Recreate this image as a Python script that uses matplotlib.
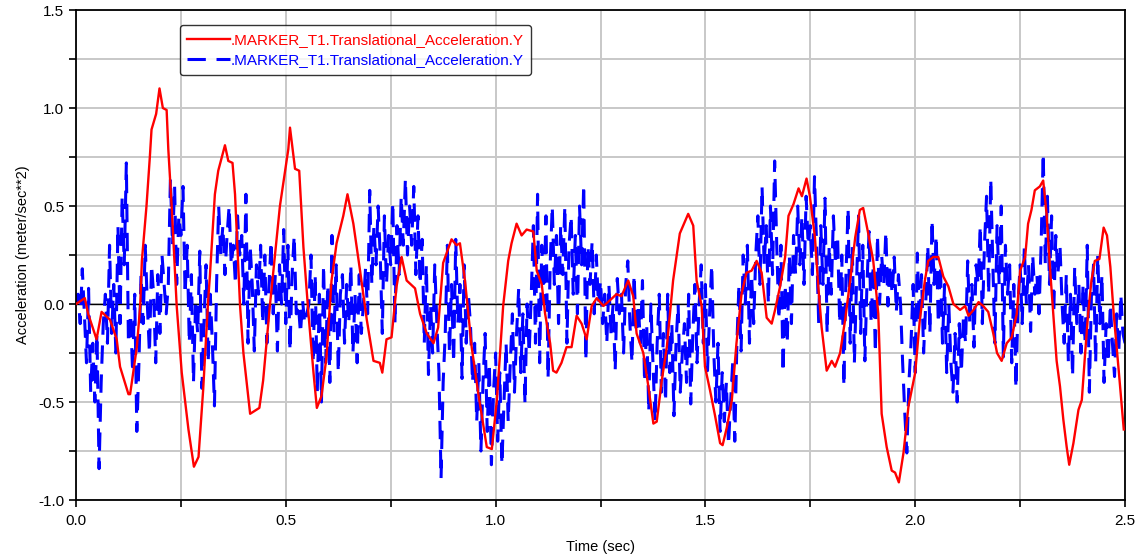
import numpy as np
import matplotlib
matplotlib.use("Agg")
import matplotlib.pyplot as plt
from matplotlib.ticker import MultipleLocator, FormatStrFormatter

plt.rcParams["font.family"] = ["Liberation Sans", "DejaVu Sans"]

# red trace (smooth)
red_t = [0.000, 0.021, 0.029, 0.049, 0.061, 0.081, 0.097, 0.105, 0.125, 0.129,
         0.145, 0.153, 0.157, 0.168, 0.176, 0.180, 0.191, 0.199, 0.207, 0.216,
         0.220, 0.228, 0.240, 0.252, 0.268, 0.281, 0.292, 0.303, 0.315, 0.319,
         0.331, 0.339, 0.355, 0.363, 0.373, 0.379, 0.391, 0.399, 0.415, 0.437,
         0.446, 0.462, 0.486, 0.506, 0.510, 0.522, 0.532, 0.542, 0.554, 0.566,
         0.574, 0.585, 0.597, 0.609, 0.621, 0.637, 0.647, 0.661, 0.677, 0.693,
         0.709, 0.724, 0.730, 0.740, 0.752, 0.764, 0.776, 0.788, 0.808, 0.820,
         0.836, 0.852, 0.863, 0.875, 0.895, 0.907, 0.915, 0.927, 0.943, 0.959,
         0.979, 0.991, 1.003, 1.010, 1.018, 1.030, 1.038, 1.050, 1.062, 1.074,
         1.090, 1.098, 1.110, 1.118, 1.130, 1.137, 1.145, 1.157, 1.169, 1.181,
         1.193, 1.205, 1.217, 1.229, 1.241, 1.257, 1.273, 1.288, 1.300, 1.316,
         1.328, 1.336, 1.352, 1.364, 1.376, 1.384, 1.396, 1.408, 1.423, 1.439,
         1.459, 1.471, 1.479, 1.491, 1.499, 1.511, 1.523, 1.535, 1.541, 1.551,
         1.563, 1.574, 1.586, 1.598, 1.610, 1.622, 1.634, 1.646, 1.658, 1.666,
         1.678, 1.690, 1.698, 1.710, 1.722, 1.730, 1.741, 1.749, 1.761, 1.769,
         1.777, 1.789, 1.801, 1.809, 1.821, 1.833, 1.845, 1.857, 1.868, 1.876,
         1.888, 1.900, 1.912, 1.920, 1.932, 1.944, 1.952, 1.961, 1.972, 1.984,
         2.000, 2.011, 2.023, 2.031, 2.043, 2.055, 2.067, 2.079, 2.091, 2.107,
         2.119, 2.127, 2.139, 2.151, 2.162, 2.174, 2.186, 2.195, 2.206, 2.218,
         2.230, 2.242, 2.250, 2.262, 2.269, 2.277, 2.285, 2.297, 2.305, 2.313,
         2.321, 2.329, 2.337, 2.345, 2.353, 2.361, 2.367, 2.377, 2.389, 2.397,
         2.405, 2.412, 2.420, 2.428, 2.439, 2.449, 2.457, 2.465, 2.473, 2.485,
         2.497]
red_v = [0.00, 0.03, -0.05, -0.18, -0.04, -0.08, -0.18, -0.32, -0.46, -0.46,
         -0.22, -0.01, 0.22, 0.50, 0.75, 0.89, 0.97, 1.10, 1.00, 0.99,
         0.79, 0.50, -0.01, -0.35, -0.64, -0.83, -0.78, -0.44, 0.02, 0.14,
         0.56, 0.68, 0.81, 0.73, 0.72, 0.56, -0.01, -0.25, -0.56, -0.53,
         -0.39, -0.01, 0.50, 0.79, 0.90, 0.69, 0.68, 0.29, -0.05, -0.35,
         -0.53, -0.47, -0.27, 0.12, 0.31, 0.45, 0.56, 0.41, 0.17, -0.08,
         -0.29, -0.30, -0.35, -0.18, -0.17, 0.09, 0.24, 0.12, 0.08, -0.05,
         -0.15, -0.20, -0.12, 0.21, 0.33, 0.30, 0.31, 0.12, -0.22, -0.46,
         -0.73, -0.74, -0.49, -0.27, -0.01, 0.22, 0.31, 0.41, 0.35, 0.38,
         0.37, 0.17, 0.10, -0.05, -0.20, -0.34, -0.35, -0.30, -0.22, -0.22,
         -0.06, -0.10, -0.18, -0.01, 0.03, -0.01, 0.02, 0.05, 0.04, 0.12,
         0.04, -0.15, -0.25, -0.42, -0.61, -0.60, -0.39, -0.22, 0.12, 0.36,
         0.46, 0.40, 0.12, -0.01, -0.32, -0.44, -0.57, -0.71, -0.72, -0.63,
         -0.49, -0.20, 0.05, 0.16, 0.17, 0.22, 0.16, -0.07, -0.10, -0.03,
         0.09, 0.24, 0.45, 0.51, 0.59, 0.55, 0.64, 0.55, 0.34, 0.09,
         -0.12, -0.34, -0.29, -0.32, -0.25, -0.08, 0.12, 0.34, 0.48, 0.49,
         0.36, 0.22, -0.05, -0.56, -0.73, -0.85, -0.86, -0.91, -0.76, -0.52,
         -0.35, -0.08, 0.12, 0.22, 0.24, 0.24, 0.14, 0.09, 0.00, -0.03,
         -0.01, -0.06, -0.03, 0.01, -0.01, -0.04, -0.15, -0.25, -0.29, -0.20,
         -0.17, -0.05, 0.17, 0.24, 0.41, 0.48, 0.58, 0.60, 0.63, 0.46,
         0.19, -0.05, -0.29, -0.42, -0.59, -0.73, -0.82, -0.71, -0.54, -0.49,
         -0.25, -0.05, 0.12, 0.22, 0.23, 0.39, 0.35, 0.19, -0.05, -0.34,
         -0.64]

# blue trace (noisy), one value every 0.005 s
blue_v = [
    0.0, 0.05, -0.1, 0.18, -0.05, -0.3, 0.08, -0.45, -0.2, -0.5,
    -0.15, -0.84, -0.4, -0.1, 0.05, -0.2, 0.3, -0.15, 0.1, -0.25,
    0.4, -0.1, 0.55, 0.2, 0.72, -0.2, -0.05, -0.35, 0.05, -0.65,
    -0.3, 0.15, -0.1, 0.3, 0.0, -0.25, 0.2, 0.05, -0.3, 0.15,
    -0.15, 0.25, 0.1, -0.05, 0.1, 0.64, 0.3, 0.6, 0.1, 0.45,
    0.35, 0.6, 0.05, 0.3, -0.2, 0.15, -0.4, 0.0, -0.15, 0.27,
    -0.43, -0.1, 0.2, -0.3, 0.05, -0.2, -0.52, 0.1, 0.5, 0.25,
    0.4, 0.15, 0.35, 0.5, 0.2, 0.3, 0.1, 0.45, 0.25, 0.35,
    0.0, 0.56, -0.2, 0.3, 0.1, -0.24, 0.2, 0.05, 0.3, -0.1,
    0.25, -0.2, 0.1, 0.32, -0.05, 0.15, -0.24, 0.2, 0.0, 0.38,
    -0.1, 0.3, -0.24, 0.15, 0.35, -0.05, 0.0, -0.15, 0.02, -0.1,
    -0.05, 0.0, 0.25, -0.3, 0.15, -0.45, 0.05, -0.5, 0.2, -0.3,
    0.1, -0.4, 0.35, -0.15, 0.2, -0.35, 0.05, 0.15, -0.2, 0.1,
    -0.1, 0.2, -0.25, 0.05, -0.3, 0.15, -0.15, 0.0, 0.18, -0.05,
    0.58, 0.1, 0.4, 0.2, 0.5, 0.25, -0.15, 0.45, 0.1, 0.35,
    0.2, 0.52, -0.1, 0.4, 0.15, 0.55, 0.3, 0.64, 0.25, 0.5,
    0.3, 0.6, 0.15, 0.45, 0.1, 0.33, -0.2, 0.2, -0.36, 0.0,
    -0.25, 0.2, -0.1, -0.35, -0.89, -0.4, -0.15, 0.3, -0.25, 0.1,
    -0.3, 0.33, -0.1, 0.1, -0.38, 0.2, -0.2, 0.05, -0.1, -0.4,
    -0.2, -0.6, -0.3, -0.75, -0.4, -0.15, -0.65, -0.3, -0.82, -0.45,
    -0.25, -0.7, -0.35, -0.82, -0.5, -0.2, -0.6, -0.3, -0.05, -0.45,
    -0.15, 0.08, -0.35, -0.05, -0.51, 0.0, -0.25, 0.05, 0.4, -0.2,
    0.56, -0.3, 0.3, 0.0, 0.45, -0.38, 0.2, 0.5, 0.1, 0.35,
    -0.1, 0.4, 0.15, 0.5, -0.2, 0.3, 0.45, 0.05, 0.35, -0.05,
    0.5, 0.2, 0.61, -0.29, 0.3, 0.1, 0.32, -0.05, 0.25, 0.0,
    0.12, -0.1, 0.05, -0.2, 0.1, -0.15, 0.0, -0.34, 0.13, -0.05,
    0.05, -0.25, 0.1, 0.22, -0.1, -0.3, 0.15, -0.15, 0.0, -0.2,
    0.12, -0.4, -0.1, -0.55, 0.0, -0.3, -0.6, -0.2, 0.05, -0.45,
    -0.15, -0.5, 0.05, -0.35, -0.1, -0.57, -0.2, 0.0, -0.45, -0.25,
    -0.1, -0.4, 0.05, -0.51, -0.15, 0.1, -0.3, 0.0, 0.2, -0.2,
    0.1, -0.34, -0.05, 0.2, -0.25, -0.5, -0.2, -0.65, -0.35, -0.6,
    -0.4, -0.72, -0.5, -0.3, -0.7, -0.2, 0.1, -0.24, 0.25, 0.0,
    0.3, -0.2, 0.15, -0.1, 0.25, 0.45, 0.1, 0.6, 0.2, 0.4,
    0.0, 0.5, 0.15, 0.73, 0.3, -0.08, 0.3, -0.35, 0.1, -0.2,
    0.25, -0.1, 0.35, 0.15, 0.5, 0.2, 0.45, 0.1, 0.55, 0.3,
    0.4, 0.15, 0.65, 0.3, -0.1, 0.4, 0.1, 0.54, -0.15, 0.3,
    0.05, 0.45, 0.2, 0.35, -0.1, 0.25, -0.42, 0.15, 0.49, -0.2,
    0.3, -0.3, 0.1, 0.45, -0.15, 0.3, -0.29, 0.1, 0.37, -0.1,
    0.2, -0.25, 0.35, 0.0, 0.25, 0.1, 0.37, -0.01, 0.2, 0.05,
    0.24, -0.04, 0.15, 0.0, -0.3, -0.55, -0.76, -0.4, -0.2, 0.1,
    -0.35, 0.26, -0.1, 0.15, -0.25, 0.0, 0.3, -0.15, 0.43, 0.1,
    0.35, -0.1, 0.2, -0.2, 0.1, -0.35, 0.0, -0.3, -0.45, -0.15,
    -0.5, -0.1, -0.35, -0.06, -0.2, 0.22, -0.1, 0.1, -0.22, 0.2,
    0.1, 0.4, -0.1, 0.3, 0.55, 0.05, 0.64, 0.2, -0.2, 0.4,
    0.1, 0.5, -0.27, 0.3, 0.05, 0.2, -0.3, 0.1, -0.43, 0.0,
    0.2, -0.1, 0.29, 0.0, 0.2, -0.14, 0.25, 0.05, 0.15, -0.05,
    0.3, 0.77, 0.2, 0.55, 0.1, 0.45, -0.05, 0.35, 0.15, 0.3,
    0.0, -0.2, 0.15, -0.3, 0.05, -0.37, 0.19, -0.1, 0.1, -0.25,
    0.1, -0.2, 0.3, -0.45, 0.05, 0.2, -0.3, 0.25, -0.1, 0.15,
    -0.4, -0.1, -0.3, 0.0, -0.2, -0.37, -0.05, -0.25, 0.05, -0.15,
    -0.2,
]
blue_t = np.linspace(0.0, 2.5, len(blue_v))

series_label = ".MARKER_T1.Translational_Acceleration.Y"

fig = plt.figure(figsize=(11.41, 5.6), dpi=100)
ax = fig.add_axes([0.0666, 0.1071, 0.9194, 0.875])

ax.set_xlim(0, 2.5)
ax.set_ylim(-1.0, 1.5)
ax.xaxis.set_major_locator(MultipleLocator(0.5))
ax.xaxis.set_minor_locator(MultipleLocator(0.25))
ax.yaxis.set_major_locator(MultipleLocator(0.5))
ax.yaxis.set_minor_locator(MultipleLocator(0.25))
ax.xaxis.set_major_formatter(FormatStrFormatter("%.1f"))
ax.yaxis.set_major_formatter(FormatStrFormatter("%.1f"))
ax.grid(True, which="both", color="#c8c8c8", linewidth=1.4)
ax.set_axisbelow(True)
ax.tick_params(which="both", direction="out", length=5, width=1.2,
               labelsize=11, colors="black")
ax.tick_params(axis="x", pad=5)

ax.axhline(0, color="black", linewidth=1.0, zorder=1.5)

ax.plot(red_t, red_v, color="#ff0000", linewidth=1.7, label=series_label, zorder=3)
ax.plot(blue_t, blue_v, color="#0000ff", linewidth=2.2, linestyle=(0, (6, 3.5)),
        label=series_label, zorder=2)

for sp in ax.spines.values():
    sp.set_linewidth(1.3)
    sp.set_color("black")

ax.set_xlabel("Time (sec)", fontsize=10.5, labelpad=9)
ax.set_ylabel("Acceleration (meter/sec**2)", fontsize=10.5, labelpad=6)

leg = ax.legend(loc="upper left", bbox_to_anchor=(0.099, 0.969), fontsize=11,
                handlelength=2.8, handletextpad=0.0, labelcolor="linecolor",
                frameon=True, fancybox=True, edgecolor="black", borderaxespad=0,
                borderpad=0.5, labelspacing=0.4)
leg.get_frame().set_linewidth(1.0)

fig.savefig("out.png", dpi=100)
